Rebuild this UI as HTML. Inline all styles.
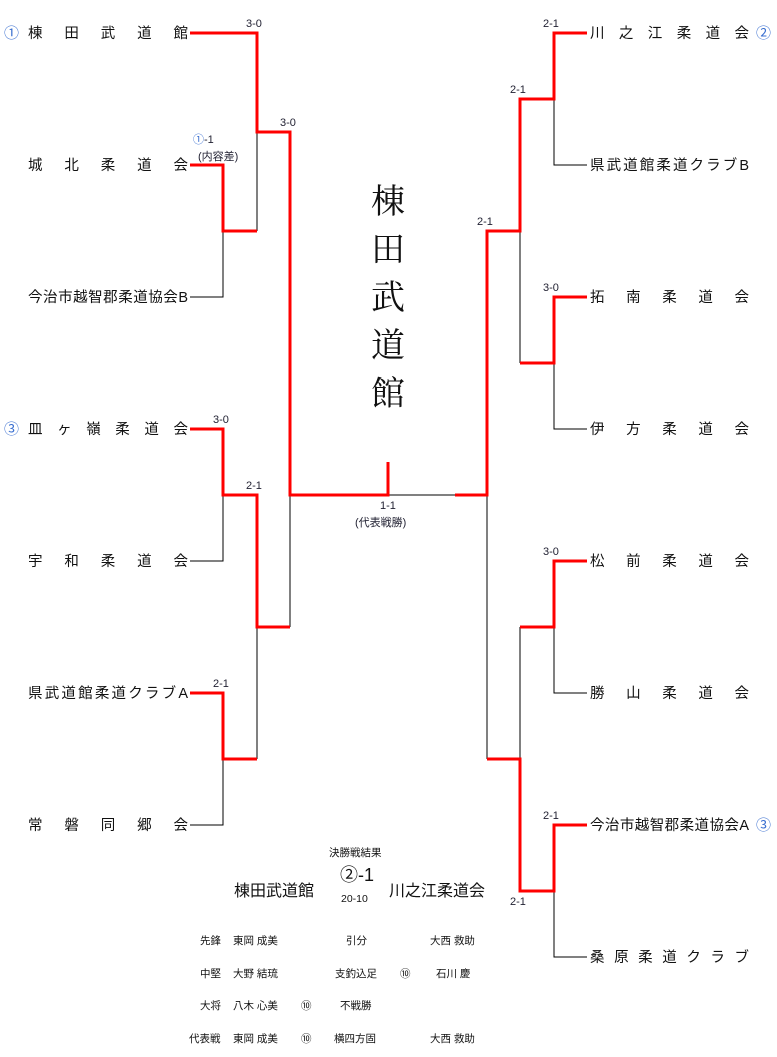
<!DOCTYPE html>
<html><head><meta charset="utf-8"><style>
html,body{margin:0;padding:0;background:#fff}
svg{display:block}
text{font-family:"Liberation Sans","Noto Sans CJK JP",sans-serif;fill:#111}
.t{font-size:14.5px}
.s{font-size:11px;fill:#223}
.c{font-size:15px;fill:#3a6fd0}
.r{stroke:#f00;stroke-width:3;fill:none}
.b{stroke:#000;stroke-width:1;fill:none}
.m{font-size:10.5px}
</style></head><body>
<svg width="777" height="1057" viewBox="0 0 777 1057">
<path class="b" d="M257 132V231 M190 297H223V231 M190 561H223V495 M257 627V759 M190 825H223V759 M290 495V627 M388 495H455 M487 495V759 M554 99V165H587 M520 231V363 M554 363V429H587 M554 627V693H587 M520 627V759 M554 891V957H587"/>
<path class="r" d="M190 33H257V132H290V495H388V462"/>
<path class="r" d="M190 165H223V231H257"/>
<path class="r" d="M190 429H223V495H257V627H290"/>
<path class="r" d="M190 693H223V759H257"/>
<path class="r" d="M455 495H487V231H520V99H554V33H587"/>
<path class="r" d="M587 297H554V363H520"/>
<path class="r" d="M587 561H554V627H520"/>
<path class="r" d="M487 759H520V891H554V825H587"/>
<text class="c" x="4" y="38">①</text>
<text class="c" x="4" y="434">③</text>
<text class="c" x="756" y="38">②</text>
<text class="c" x="756" y="830">③</text>
<text class="t" x="28" y="38" textLength="160" lengthAdjust="spacing">棟田武道館</text>
<text class="t" x="28" y="170" textLength="160" lengthAdjust="spacing">城北柔道会</text>
<text class="t" x="28" y="302" textLength="160" lengthAdjust="spacing">今治市越智郡柔道協会B</text>
<text class="t" x="28" y="434" textLength="160" lengthAdjust="spacing">皿ヶ嶺柔道会</text>
<text class="t" x="28" y="566" textLength="160" lengthAdjust="spacing">宇和柔道会</text>
<text class="t" x="28" y="698" textLength="160" lengthAdjust="spacing">県武道館柔道クラブA</text>
<text class="t" x="28" y="830" textLength="160" lengthAdjust="spacing">常磐同郷会</text>
<text class="t" x="590" y="38" textLength="159" lengthAdjust="spacing">川之江柔道会</text>
<text class="t" x="590" y="170" textLength="159" lengthAdjust="spacing">県武道館柔道クラブB</text>
<text class="t" x="590" y="302" textLength="159" lengthAdjust="spacing">拓南柔道会</text>
<text class="t" x="590" y="434" textLength="159" lengthAdjust="spacing">伊方柔道会</text>
<text class="t" x="590" y="566" textLength="159" lengthAdjust="spacing">松前柔道会</text>
<text class="t" x="590" y="698" textLength="159" lengthAdjust="spacing">勝山柔道会</text>
<text class="t" x="590" y="830" textLength="159" lengthAdjust="spacing">今治市越智郡柔道協会A</text>
<text class="t" x="590" y="962" textLength="159" lengthAdjust="spacing">桑原柔道クラブ</text>
<text class="s" x="246" y="27">3-0</text>
<text class="s" x="280" y="126">3-0</text>
<text class="s" x="193" y="143"><tspan style="fill:#3a6fd0">①</tspan>-1</text>
<text class="s" x="198" y="160">(内容差)</text>
<text class="s" x="213" y="423">3-0</text>
<text class="s" x="246" y="489">2-1</text>
<text class="s" x="213" y="687">2-1</text>
<text class="s" x="380" y="509">1-1</text>
<text class="s" x="355" y="526">(代表戦勝)</text>
<text class="s" x="543" y="27">2-1</text>
<text class="s" x="510" y="93">2-1</text>
<text class="s" x="477" y="225">2-1</text>
<text class="s" x="543" y="291">3-0</text>
<text class="s" x="543" y="555">3-0</text>
<text class="s" x="543" y="819">2-1</text>
<text class="s" x="510" y="905">2-1</text>
<g text-anchor="middle" style="font-size:34px">
<text x="388" y="213" style="font-family:'Noto Serif CJK SC',serif">棟</text>
<text x="388" y="261" style="font-family:'Noto Serif CJK SC',serif">田</text>
<text x="388" y="309" style="font-family:'Noto Serif CJK SC',serif">武</text>
<text x="388" y="357" style="font-family:'Noto Serif CJK SC',serif">道</text>
<text x="388" y="405" style="font-family:'Noto Serif CJK SC',serif">館</text>
</g>
<text class="m" x="329" y="856">決勝戦結果</text>
<text x="340" y="881" style="font-size:18px">②-1</text>
<text x="234" y="896" style="font-size:16px">棟田武道館</text>
<text x="389" y="896" style="font-size:16px">川之江柔道会</text>
<text class="m" x="341" y="902">20-10</text>
<text class="m" x="200" y="944">先鋒</text><text class="m" x="233" y="944">東岡 成美</text><text class="m" x="346" y="944">引分</text><text class="m" x="430" y="944">大西 救助</text>
<text class="m" x="200" y="977">中堅</text><text class="m" x="233" y="977">大野 結琉</text><text class="m" x="335" y="977">支釣込足</text><text class="m" x="400" y="977">⑩</text><text class="m" x="436" y="977">石川 慶</text>
<text class="m" x="200" y="1009">大将</text><text class="m" x="233" y="1009">八木 心美</text><text class="m" x="301" y="1009">⑩</text><text class="m" x="340" y="1009">不戦勝</text>
<text class="m" x="189" y="1042">代表戦</text><text class="m" x="233" y="1042">東岡 成美</text><text class="m" x="301" y="1042">⑩</text><text class="m" x="334" y="1042">横四方固</text><text class="m" x="430" y="1042">大西 救助</text>
</svg>
</body></html>
